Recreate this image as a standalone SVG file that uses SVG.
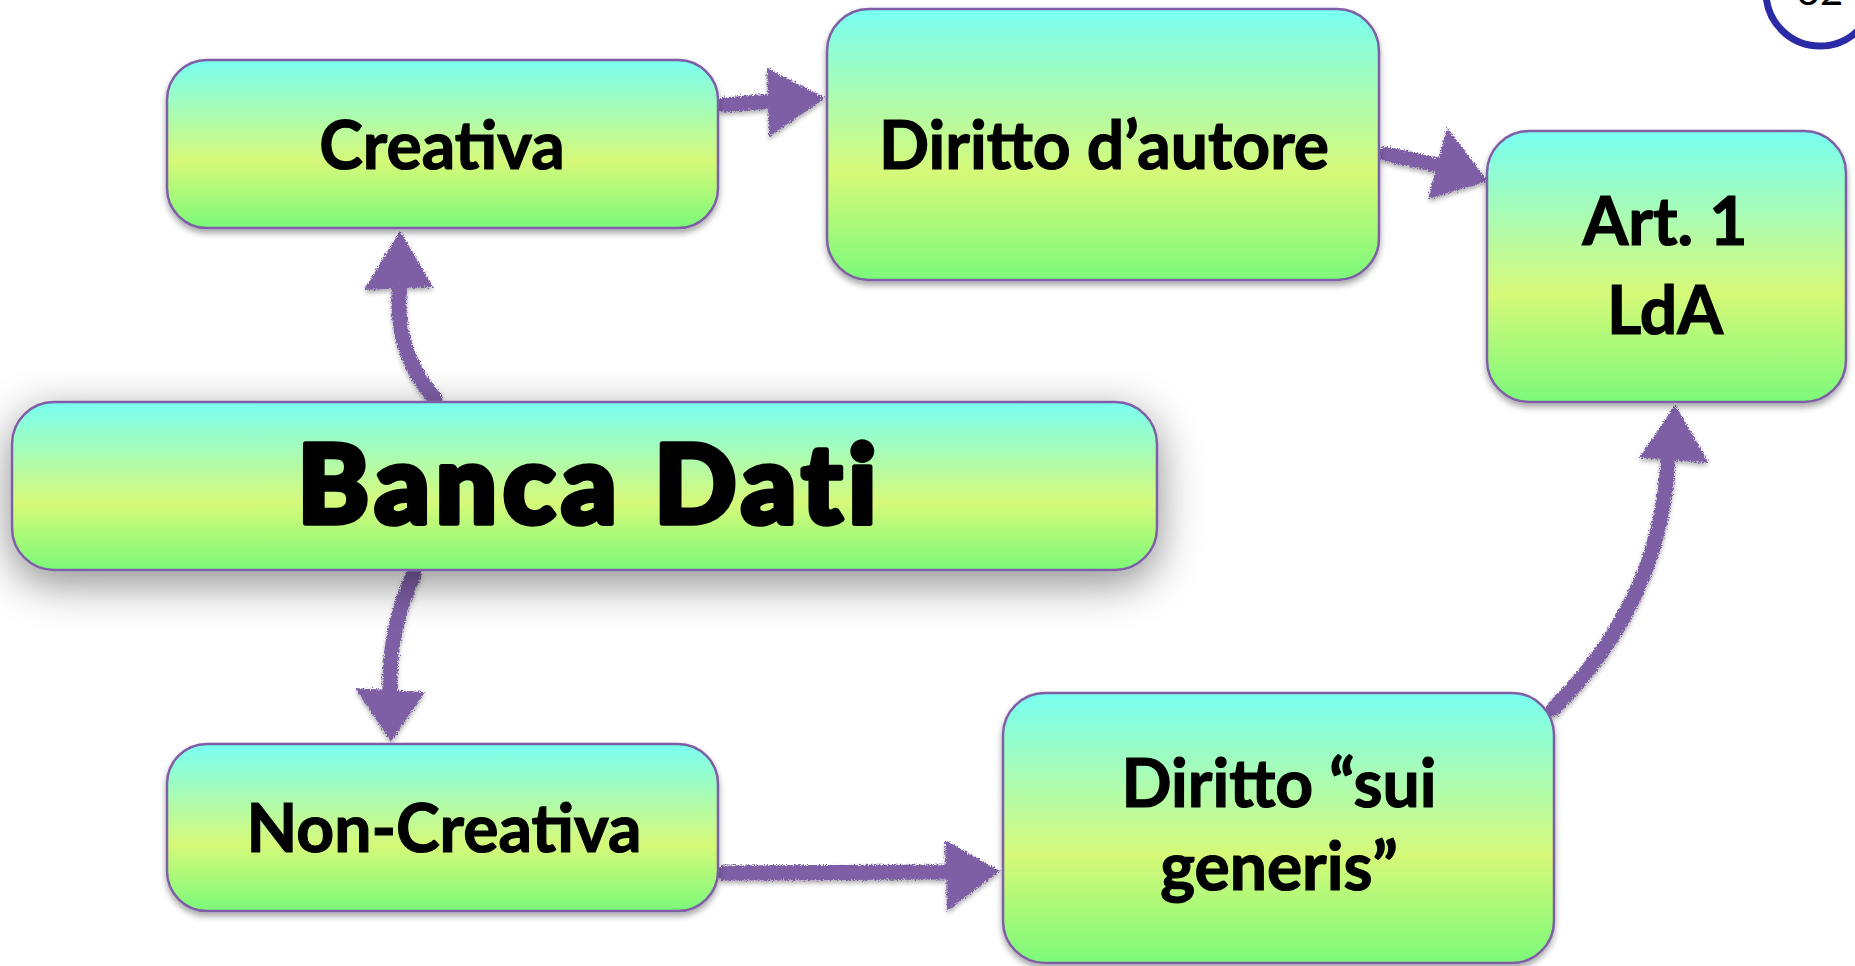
<svg xmlns="http://www.w3.org/2000/svg" width="1855" height="966" viewBox="0 0 1855 966">
<style>
.box{fill:url(#g);stroke:#7E5FA6;stroke-width:2.5}
.lbl{font-family:Lato,"Open Sans","Liberation Sans",sans-serif;font-weight:700;font-size:66px;fill:#000;stroke:#000;stroke-width:1.2;text-anchor:middle}
.big{font-family:Lato,"Open Sans","Liberation Sans",sans-serif;font-weight:900;font-size:108px;letter-spacing:6px;fill:#000;stroke:#000;stroke-width:5.5;stroke-linejoin:round;text-anchor:middle}
.shaft{fill:none;stroke:#7E5FA6;stroke-width:15;stroke-linecap:round}
.head{fill:#7E5FA6}
</style>
<defs>
<linearGradient id="g" x1="0" y1="0" x2="0" y2="1">
<stop offset="0" stop-color="#79FFF2"/>
<stop offset="0.6" stop-color="#D6F979"/>
<stop offset="1" stop-color="#7CF97A"/>
</linearGradient>
<filter id="sh" x="-10%" y="-20%" width="120%" height="150%">
<feDropShadow dx="0" dy="4" stdDeviation="3" flood-color="#000" flood-opacity="0.35"/>
</filter>
<filter id="bigsh" x="-20%" y="-60%" width="140%" height="220%">
<feDropShadow dx="0" dy="12" stdDeviation="22" flood-color="#000" flood-opacity="0.45"/>
</filter>
<filter id="chalk" x="-20%" y="-20%" width="140%" height="140%">
<feTurbulence type="fractalNoise" baseFrequency="0.7" numOctaves="2" seed="3" result="n"/>
<feDisplacementMap in="SourceGraphic" in2="n" scale="6" xChannelSelector="R" yChannelSelector="G" result="d"/>
<feDropShadow dx="0" dy="3" stdDeviation="2" flood-color="#000" flood-opacity="0.3"/>
</filter>
</defs>
<rect width="1855" height="966" fill="#fff"/>

<g id="page-number">
<circle cx="1820" cy="-8" r="54" fill="#fff" stroke="#2B2BA5" stroke-width="7"/>
<text x="1820" y="5" font-family="Lato,'Liberation Sans',sans-serif" font-size="40" text-anchor="middle" fill="#000">32</text>
</g>

<g id="connectors" filter="url(#chalk)">
<path class="shaft" d="M724,105 L772,101"/>
<polygon class="head" points="767,68 825,98 769,137"/>
<path class="shaft" d="M1386,154 L1442,166"/>
<polygon class="head" points="1447,128 1488,181 1428,199"/>
<path class="shaft" d="M435,399 Q392,350 400,282"/>
<polygon class="head" points="364,290 400,231 433,287"/>
<path class="shaft" d="M414,574 Q388,630 390,692"/>
<polygon class="head" points="355,688 391,742 425,692"/>
<path class="shaft" d="M724,873 L948,872"/>
<polygon class="head" points="945,840 1000,871 947,911"/>
<path class="shaft" d="M1553,709 Q1662,600 1668,458"/>
<polygon class="head" points="1639,458 1675,405 1709,463"/>
</g>

<g id="banca-dati">
<rect class="box" x="12" y="402" width="1145" height="168" rx="42" filter="url(#bigsh)"/>
<text class="big" x="590" y="523">Banca Dati</text>
</g>
<g id="creativa">
<rect class="box" x="167" y="60" width="551" height="168" rx="40" filter="url(#sh)"/>
<text class="lbl" x="442" y="169">Creativa</text>
</g>
<g id="diritto-autore">
<rect class="box" x="827" y="9" width="552" height="271" rx="42" filter="url(#sh)"/>
<text class="lbl" x="1104" y="169">Diritto d’autore</text>
</g>
<g id="art1">
<rect class="box" x="1487" y="131" width="359" height="271" rx="42" filter="url(#sh)"/>
<text class="lbl" x="1665" y="245">Art. 1</text>
<text class="lbl" x="1665" y="334">LdA</text>
</g>
<g id="non-creativa">
<rect class="box" x="167" y="744" width="551" height="167" rx="40" filter="url(#sh)"/>
<text class="lbl" x="444" y="852">Non-Creativa</text>
</g>
<g id="sui-generis">
<rect class="box" x="1003" y="693" width="551" height="270" rx="42" filter="url(#sh)"/>
<text class="lbl" x="1279" y="807">Diritto “sui</text>
<text class="lbl" x="1279" y="890">generis”</text>
</g>
</svg>
